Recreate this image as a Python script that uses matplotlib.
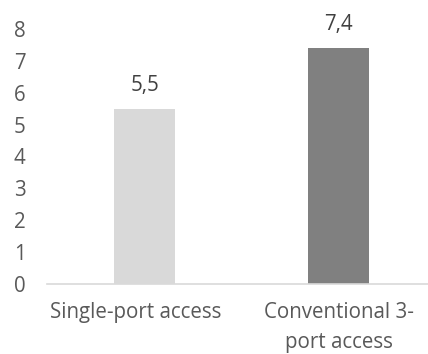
import matplotlib.pyplot as plt
from matplotlib.transforms import ScaledTranslation

# Datos del gráfico
categorias = ['Single-port access', 'Conventional 3-\nport access']
valores = [5.5, 7.4]
colores = ['#d9d9d9', '#808080']
yticks = [0, 1, 2, 3, 4, 5, 6, 7, 8]

texto = '#595959'
plt.rcParams['font.family'] = ['Open Sans', 'DejaVu Sans']
fs = 14.8

fig = plt.figure(figsize=(4.28, 3.54), dpi=100)
ax = fig.add_axes([47 / 428, 1 - 284 / 354, (428 - 47) / 428, (284 - 29) / 354])

x = list(range(len(categorias)))
barras = ax.bar(x, valores, width=0.314, color=colores)

# Etiquetas de valor con coma decimal
for b, v in zip(barras, valores):
    ax.annotate(f'{v:.1f}'.replace('.', ','), (b.get_x() + b.get_width() / 2, v),
                xytext=(0, 17), textcoords='offset points', ha='center', va='center',
                fontsize=fs, color='#404040')

ax.set_xlim(-0.503, 1.46)
ax.set_ylim(0, 8)
ax.set_yticks(yticks)
ax.set_xticks(x)
ax.set_xticklabels(categorias, fontsize=fs, color=texto, linespacing=1.55, va='top')
ax.tick_params(axis='y', length=0, labelsize=fs, labelcolor=texto, pad=24)
ax.tick_params(axis='x', length=0, pad=13)
for lbl in ax.get_yticklabels():
    lbl.set_horizontalalignment('left')

# la primera etiqueta queda un poco a la izquierda
primera = ax.get_xticklabels()[0]
primera.set_transform(primera.get_transform() + ScaledTranslation(-9 / 100, 0, fig.dpi_scale_trans))

for s in ['top', 'right', 'left']:
    ax.spines[s].set_visible(False)
ax.spines['bottom'].set_color('#d9d9d9')
ax.spines['bottom'].set_linewidth(1.2)

fig.savefig('out.png', dpi=100)
